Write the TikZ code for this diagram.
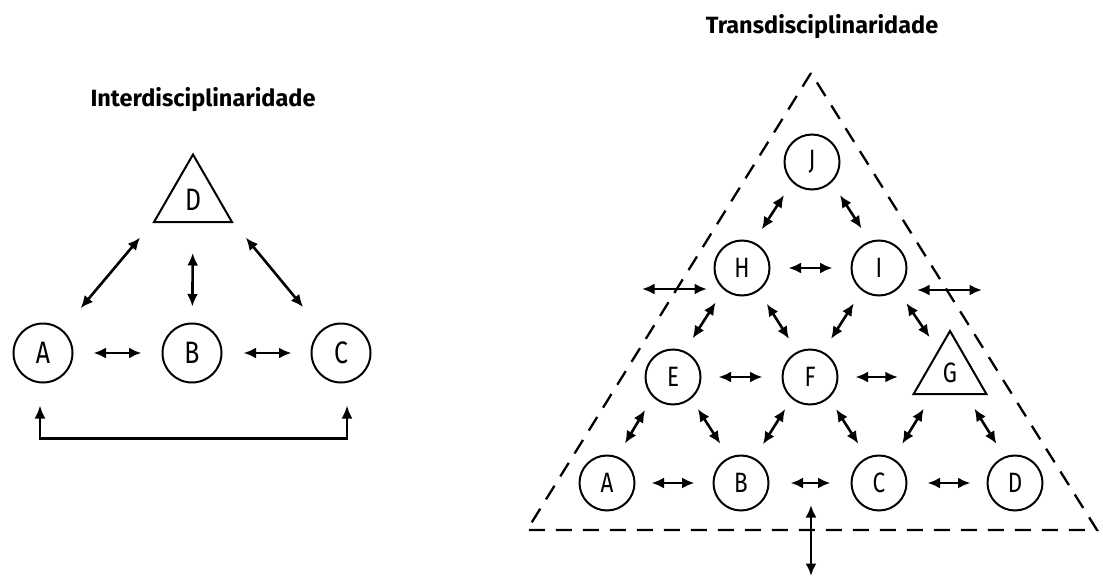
\documentclass[tikz,border=0pt]{standalone}
\usepackage{fontspec}
\setmainfont{Fira Sans}
\newfontfamily\letterfont[FakeStretch=0.8]{Fira Sans}
\usetikzlibrary{arrows.meta,shapes.geometric}
\begin{document}
\begin{tikzpicture}[x=1pt,y=-1pt,
  disc/.style={circle,draw,line width=2pt,minimum size=55pt,inner sep=0pt,
    font=\letterfont\fontsize{28}{28}\selectfont},
  bigdisc/.style={disc,minimum size=59pt,font=\letterfont\fontsize{31}{31}\selectfont},
  tri/.style={regular polygon,regular polygon sides=3,draw,line width=2pt,inner sep=0pt},
  arr/.style={{Latex[length=12.5pt,width=11pt]}-{Latex[length=12.5pt,width=11pt]},line width=2.6pt},
  arrbig/.style={{Latex[length=13pt,width=11pt]}-{Latex[length=13pt,width=11pt]},line width=2.4pt},
  frame/.style={line width=2.3pt,dash pattern=on 16pt off 11pt},
  title/.style={font=\bfseries\fontsize{23.5}{23.5}\selectfont}
]
\useasboundingbox (0,0) rectangle (1103,578);

% ---------- left: Interdisciplinaridade ----------
\node[title] (t1) at (203,100) {Interdisciplinaridade};
\node[tri,minimum size=90pt,font=\letterfont\fontsize{31}{31}\selectfont] (lD) at (193,199.5) {D};
\node[bigdisc] (lA) at (43,353) {A};
\node[bigdisc] (lB) at (192,353) {B};
\node[bigdisc] (lC) at (341,353) {C};

\draw[arr,shorten <=20pt,shorten >=20pt] (lA) -- (lB);
\draw[arr,shorten <=21pt,shorten >=19pt] (lB) -- (lC);
\draw[arr,shorten <=28pt,shorten >=19pt] (lA) -- (lD.corner 2);
\draw[arr,shorten <=19pt,shorten >=29pt] (lD.corner 3) -- (lC);
\draw[arr,shorten <=30pt,shorten >=16pt] (lD.side 2) -- (lB);
\draw[arrbig,shorten <=22pt,shorten >=22pt] ([xshift=-3pt]lA.south) -- ++(0,55) -| ([xshift=6pt]lC.south);

% ---------- right: Transdisciplinaridade ----------
\node[title] (t2) at (822,27) {Transdisciplinaridade};
\node[disc] (nJ) at (812,162) {J};
\node[disc] (nH) at (742,268) {H};
\node[disc] (nI) at (879,268) {I};
\node[disc] (nE) at (673,377) {E};
\node[disc] (nF) at (810,377) {F};
\node[tri,minimum size=84pt,font=\letterfont\fontsize{28}{28}\selectfont] (nG) at (950,373) {G};
\node[disc] (nA) at (607,483) {A};
\node[disc] (nB) at (741,483) {B};
\node[disc] (nC) at (879,483) {C};
\node[disc] (nD) at (1015,483) {D};

\coordinate (apex) at (811,73);
\coordinate (bl) at (527,530);
\coordinate (br) at (1097,530);
\draw[frame] (apex) -- (bl) -- (br) -- cycle;

% horizontal arrows
\draw[arr,shorten <=18pt,shorten >=18pt] (nH) -- (nI);
\draw[arr,shorten <=17pt,shorten >=19pt] (nE) -- (nF);
\draw[arr,shorten <=17pt,shorten >=14pt] (nF.east) -- (nF.east -| nG.corner 2);
\draw[arr,shorten <=16pt,shorten >=18pt] (nA) -- (nB);
\draw[arr,shorten <=21pt,shorten >=20pt] (nB) -- (nC);
\draw[arr,shorten <=20pt,shorten >=16pt] (nC) -- (nD);

% diagonal arrows
\draw[arr,shorten <=15pt,shorten >=15pt] (nJ.226) -- (nH.66);
\draw[arr,shorten <=15pt,shorten >=15pt] (nJ.314) -- (nI.109);
\draw[arr,shorten <=15pt,shorten >=15pt] (nH.230) -- (nE.66);
\draw[arr,shorten <=15pt,shorten >=15pt] (nH.306) -- (nF.117);
\draw[arr,shorten <=15pt,shorten >=15pt] (nI.233) -- (nF.63);
\draw[arr,shorten <=16pt,shorten >=15pt] (nI.310) -- (nG.117);
\draw[arr,shorten <=15pt,shorten >=15pt] (nE.225) -- (nA.69);
\draw[arr,shorten <=12pt,shorten >=16pt] (nE.310) -- (nB.115);
\draw[arr,shorten <=12pt,shorten >=16pt] (nF.230) -- (nB.62);
\draw[arr,shorten <=13pt,shorten >=16pt] (nF.312) -- (nC.115);
\draw[arr,shorten <=16pt,shorten >=17pt] (nG.231) -- (nC.60);
\draw[arr,shorten <=16pt,shorten >=15pt] (nG.306) -- (nD.112);

% outgoing arrows
\coordinate (oL1) at (642,289);
\coordinate (oL2) at (707,289);
\coordinate (oR1) at (917,290);
\coordinate (oR2) at (982,290);
\coordinate (oB1) at (811,505);
\coordinate (oB2) at (811,576);
\draw[arr] (oL1) -- (oL2);
\draw[arr] (oR1) -- (oR2);
\draw[arr] (oB1) -- (oB2);
\end{tikzpicture}
\end{document}
